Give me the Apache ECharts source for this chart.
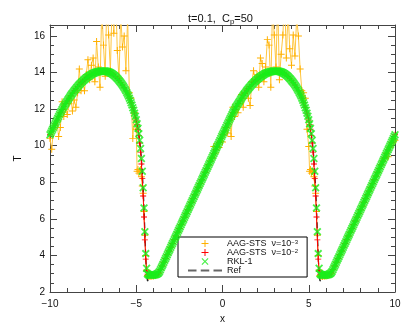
<!DOCTYPE html>
<html><head><meta charset="utf-8">
<script src="https://cdn.jsdelivr.net/npm/echarts@6/dist/echarts.min.js"></script>
<style>html,body{margin:0;padding:0;background:#fff}#c{width:415px;height:332px}</style>
</head><body><div id="c"></div>
<script>
// sample positions (x) for the AAG-STS runs and the reference
const xGrid = [
-10.0,-9.9,-9.8,-9.7,-9.6,-9.5,-9.4,-9.3,-9.2,-9.1,
-9.0,-8.9,-8.8,-8.7,-8.6,-8.5,-8.4,-8.3,-8.2,-8.1,
-8.0,-7.9,-7.8,-7.7,-7.6,-7.5,-7.4,-7.3,-7.2,-7.1,
-7.0,-6.9,-6.8,-6.7,-6.6,-6.5,-6.4,-6.3,-6.2,-6.1,
-6.0,-5.9,-5.8,-5.7,-5.6,-5.5,-5.4,-5.3,-5.2,-5.1,
-5.0,-4.95,-4.9,-4.85,-4.8,-4.75,-4.7,-4.65,-4.6,-4.55,-4.5,-4.45,-4.4,-4.35,
-4.3,-4.2,-4.1,-4.0,-3.9,-3.8,-3.7,-3.6,-3.5,-3.4,
-3.3,-3.2,-3.1,-3.0,-2.9,-2.8,-2.7,-2.6,-2.5,-2.4,
-2.3,-2.2,-2.1,-2.0,-1.9,-1.8,-1.7,-1.6,-1.5,-1.4,
-1.3,-1.2,-1.1,-1.0,-0.9,-0.8,-0.7,-0.6,-0.5,-0.4,
-0.3,-0.2,-0.1,
0.0,0.1,0.2,0.3,0.4,0.5,0.6,0.7,0.8,0.9,
1.0,1.1,1.2,1.3,1.4,1.5,1.6,1.7,1.8,1.9,
2.0,2.1,2.2,2.3,2.4,2.5,2.6,2.7,2.8,2.9,
3.0,3.1,3.2,3.3,3.4,3.5,3.6,3.7,3.8,3.9,
4.0,4.1,4.2,4.3,4.4,4.5,4.6,4.7,4.8,4.9,
5.0,5.05,5.1,5.15,5.2,5.25,5.3,5.35,5.4,5.45,5.5,5.55,5.6,5.65,
5.7,5.8,5.9,6.0,6.1,6.2,6.3,6.4,6.5,6.6,
6.7,6.8,6.9,7.0,7.1,7.2,7.3,7.4,7.5,7.6,
7.7,7.8,7.9,8.0,8.1,8.2,8.3,8.4,8.5,8.6,
8.7,8.8,8.9,9.0,9.1,9.2,9.3,9.4,9.5,9.6,
9.7,9.8,9.9,10.0
];

// RKL-1 grid: x = -10 .. 10 in steps of 0.05 (401 samples)
const xFineStart = -10, xFineStep = 0.05, xFineCount = 401;

// RKL-1 (green crosses), one value per fine-grid sample
const tRKL = [
10.6,10.7,10.8,10.9,11.0,11.1,11.2,11.3,11.4,11.5,
11.6,11.7,11.8,11.89,11.98,12.07,12.15,12.23,12.3,12.38,
12.45,12.53,12.6,12.67,12.74,12.81,12.87,12.94,13.0,13.06,
13.12,13.18,13.23,13.29,13.34,13.39,13.44,13.49,13.53,13.58,
13.62,13.66,13.7,13.74,13.77,13.81,13.84,13.87,13.9,13.93,
13.95,13.97,13.99,14.01,14.02,14.04,14.05,14.06,14.07,14.08,
14.08,14.08,14.08,14.08,14.08,14.07,14.06,14.05,14.03,14.01,
13.99,13.96,13.93,13.9,13.86,13.82,13.78,13.73,13.68,13.63,
13.57,13.51,13.45,13.39,13.32,13.25,13.17,13.09,13.0,12.91,
12.82,12.72,12.6,12.48,12.35,12.22,12.08,11.94,11.78,11.61,
11.42,11.2,10.95,10.65,10.3,9.85,9.3,8.6,7.7,6.6,
5.3,4.1,3.3,3.0,2.95,2.93,2.92,2.92,2.92,2.92,
2.93,2.94,2.95,2.96,2.98,3.01,3.05,3.12,3.22,3.32,
3.42,3.52,3.63,3.73,3.83,3.93,4.04,4.14,4.24,4.34,
4.45,4.55,4.65,4.75,4.86,4.96,5.06,5.16,5.27,5.37,
5.47,5.57,5.68,5.78,5.88,5.98,6.09,6.19,6.29,6.39,
6.5,6.6,6.7,6.8,6.91,7.01,7.11,7.21,7.32,7.42,
7.52,7.62,7.73,7.83,7.93,8.03,8.14,8.24,8.34,8.44,
8.55,8.65,8.75,8.85,8.96,9.06,9.16,9.26,9.37,9.47,
9.57,9.67,9.78,9.88,9.98,10.08,10.19,10.29,10.39,10.5,
10.6,10.7,10.8,10.9,11.0,11.1,11.2,11.3,11.4,11.5,
11.6,11.7,11.8,11.89,11.98,12.07,12.15,12.23,12.3,12.38,
12.45,12.53,12.6,12.67,12.74,12.81,12.87,12.94,13.0,13.06,
13.12,13.18,13.23,13.29,13.34,13.39,13.44,13.49,13.53,13.58,
13.62,13.66,13.7,13.74,13.77,13.81,13.84,13.87,13.9,13.93,
13.95,13.97,13.99,14.01,14.02,14.04,14.05,14.06,14.07,14.08,
14.08,14.08,14.08,14.08,14.08,14.07,14.06,14.05,14.03,14.01,
13.99,13.96,13.93,13.9,13.86,13.82,13.78,13.73,13.68,13.63,
13.57,13.51,13.45,13.39,13.32,13.25,13.17,13.09,13.0,12.91,
12.82,12.72,12.6,12.48,12.35,12.22,12.08,11.94,11.78,11.61,
11.42,11.2,10.95,10.65,10.3,9.85,9.3,8.6,7.7,6.6,
5.3,4.1,3.3,3.0,2.95,2.93,2.92,2.92,2.92,2.92,
2.93,2.94,2.95,2.96,2.98,3.01,3.05,3.12,3.22,3.32,
3.42,3.52,3.63,3.73,3.83,3.93,4.04,4.14,4.24,4.34,
4.45,4.55,4.65,4.75,4.86,4.96,5.06,5.16,5.27,5.37,
5.47,5.57,5.68,5.78,5.88,5.98,6.09,6.19,6.29,6.39,
6.5,6.6,6.7,6.8,6.91,7.01,7.11,7.21,7.32,7.42,
7.52,7.62,7.73,7.83,7.93,8.03,8.14,8.24,8.34,8.44,
8.55,8.65,8.75,8.85,8.96,9.06,9.16,9.26,9.37,9.47,
9.57,9.67,9.78,9.88,9.98,10.08,10.19,10.29,10.39,10.5,
10.6
];

// AAG-STS nu=1e-2 (red), on xGrid
const tSTS2 = [
10.6,10.8,11.0,11.2,11.4,11.6,11.8,11.98,12.15,12.3,
12.45,12.6,12.74,12.87,13.0,13.12,13.23,13.34,13.44,13.53,
13.62,13.7,13.77,13.84,13.9,13.95,13.99,14.02,14.05,14.07,
14.08,14.08,14.08,14.06,14.03,13.99,13.93,13.86,13.78,13.68,
13.57,13.45,13.32,13.17,13.0,12.82,12.6,12.35,12.08,11.78,
11.4,11.15,10.9,10.55,10.15,9.65,9.0,8.2,7.25,6.1,4.85,3.8,3.15,2.98,
2.95,2.92,2.92,2.93,2.95,2.98,3.05,3.22,3.42,3.63,
3.83,4.04,4.24,4.45,4.65,4.86,5.06,5.27,5.47,5.68,
5.88,6.09,6.29,6.5,6.7,6.91,7.11,7.32,7.52,7.73,
7.93,8.14,8.34,8.55,8.75,8.96,9.16,9.37,9.57,9.78,
9.98,10.19,10.39,
10.6,10.8,11.0,11.2,11.4,11.6,11.8,11.98,12.15,12.3,
12.45,12.6,12.74,12.87,13.0,13.12,13.23,13.34,13.44,13.53,
13.62,13.7,13.77,13.84,13.9,13.95,13.99,14.02,14.05,14.07,
14.08,14.08,14.08,14.06,14.03,13.99,13.93,13.86,13.78,13.68,
13.57,13.45,13.32,13.17,13.0,12.82,12.6,12.35,12.08,11.78,
11.4,11.15,10.9,10.55,10.15,9.65,9.0,8.2,7.25,6.1,4.85,3.8,3.15,2.98,
2.95,2.92,2.92,2.93,2.95,2.98,3.05,3.22,3.42,3.63,
3.83,4.04,4.24,4.45,4.65,4.86,5.06,5.27,5.47,5.68,
5.88,6.09,6.29,6.5,6.7,6.91,7.11,7.32,7.52,7.73,
7.93,8.14,8.34,8.55,8.75,8.96,9.16,9.37,9.57,9.78,
9.98,10.19,10.39,10.6
];

// AAG-STS nu=1e-3 (orange, noisy), on xGrid
const tSTS3 = [
10.4,9.8,10.9,11.1,11.3,10.5,11.0,12.4,11.6,12.0,
11.7,12.3,12.7,11.9,12.5,12.1,12.9,14.2,13.0,13.5,
13.0,13.9,14.7,13.6,14.4,14.8,13.5,15.7,14.3,13.2,
17.5,15.5,13.8,18.2,16.05,14.1,17.8,16.15,18.6,15.2,
13.7,17.2,15.4,16.0,14.1,17.0,12.9,12.6,10.4,11.8,
10.9,8.6,8.7,8.5,8.6,8.7,8.3,7.8,7.4,6.4,5.1,4.0,3.2,2.9,
2.85,2.85,2.86,2.88,2.9,2.95,3.02,3.22,3.42,3.63,
3.83,4.04,4.24,4.45,4.65,4.86,5.06,5.27,5.47,5.68,
5.88,6.09,6.29,6.5,6.7,6.91,7.11,7.32,7.52,7.73,
7.93,8.14,8.34,8.55,8.75,8.96,9.16,9.3,9.95,9.6,
10.1,9.9,10.25,
10.2,10.6,11.0,10.7,11.4,10.5,12.1,11.6,12.0,11.8,
12.3,12.8,12.1,12.9,13.1,12.6,12.2,13.5,14.1,13.6,
13.9,13.2,14.8,14.5,13.5,14.3,15.8,15.5,13.2,17.6,
16.05,14.3,18.0,13.6,15.0,16.05,18.2,14.8,17.4,15.3,
14.4,16.05,14.9,17.0,16.0,14.2,13.0,12.9,12.6,10.9,
9.95,8.6,8.7,8.5,8.6,8.6,8.3,7.8,7.4,6.4,5.1,4.0,3.2,2.9,
2.85,2.85,2.86,2.88,2.9,2.95,3.02,3.22,3.42,3.63,
3.83,4.04,4.24,4.45,4.65,4.86,5.06,5.27,5.47,5.68,
5.88,6.09,6.29,6.5,6.7,6.91,7.11,7.32,7.52,7.73,
7.93,8.14,8.34,8.55,8.75,8.96,9.16,9.3,9.6,9.4,
9.9,10.1,10.2,10.3
];

// Reference solution (dashed), on xGrid
const tRef = [
10.6,10.8,11.0,11.2,11.4,11.6,11.8,11.98,12.15,12.3,
12.45,12.6,12.74,12.87,13.0,13.12,13.23,13.34,13.44,13.53,
13.62,13.7,13.77,13.84,13.9,13.95,13.99,14.02,14.05,14.07,
14.08,14.08,14.08,14.06,14.03,13.99,13.93,13.86,13.78,13.68,
13.57,13.45,13.32,13.17,13.0,12.82,12.6,12.35,12.08,11.78,
11.42,11.2,10.95,10.65,10.3,9.85,9.3,8.6,7.7,6.6,5.3,3.9,2.95,2.6,
2.55,2.75,2.88,2.93,2.95,2.98,3.05,3.22,3.42,3.63,
3.83,4.04,4.24,4.45,4.65,4.86,5.06,5.27,5.47,5.68,
5.88,6.09,6.29,6.5,6.7,6.91,7.11,7.32,7.52,7.73,
7.93,8.14,8.34,8.55,8.75,8.96,9.16,9.37,9.57,9.78,
9.98,10.19,10.39,
10.6,10.8,11.0,11.2,11.4,11.6,11.8,11.98,12.15,12.3,
12.45,12.6,12.74,12.87,13.0,13.12,13.23,13.34,13.44,13.53,
13.62,13.7,13.77,13.84,13.9,13.95,13.99,14.02,14.05,14.07,
14.08,14.08,14.08,14.06,14.03,13.99,13.93,13.86,13.78,13.68,
13.57,13.45,13.32,13.17,13.0,12.82,12.6,12.35,12.08,11.78,
11.42,11.2,10.95,10.65,10.3,9.85,9.3,8.6,7.7,6.6,5.3,3.9,2.95,2.6,
2.55,2.75,2.88,2.93,2.95,2.98,3.05,3.22,3.42,3.63,
3.83,4.04,4.24,4.45,4.65,4.86,5.06,5.27,5.47,5.68,
5.88,6.09,6.29,6.5,6.7,6.91,7.11,7.32,7.52,7.73,
7.93,8.14,8.34,8.55,8.75,8.96,9.16,9.37,9.57,9.78,
9.98,10.19,10.39,10.6
];

const seriesNames = ['AAG-STS \u03bd=10^-3', 'AAG-STS \u03bd=10^-2', 'RKL-1', 'Ref'];
const xTickLabels = ['\u221210', '\u22125', '0', '5', '10'];
const yTickLabels = ['2', '4', '6', '8', '10', '12', '14', '16'];

const PLUS = 'path://M4.3,0H5.7V4.3H10V5.7H5.7V10H4.3V5.7H0V4.3H4.3Z';
const CROSS = 'path://M0,1.2L1.2,0L5,3.8L8.8,0L10,1.2L6.2,5L10,8.8L8.8,10L5,6.2L1.2,10L0,8.8L3.8,5Z';
const CROSS_BOLD = 'path://M0,1.6L1.6,0L5,3.4L8.4,0L10,1.6L6.6,5L10,8.4L8.4,10L5,6.6L1.6,10L0,8.4L3.4,5Z';
const DASH = 'path://M0,0H8V2H0ZM12,0H20V2H12ZM24,0H32V2H24Z';

const pts = arr => xGrid.map((x, i) => [x, arr[i]]);
const finePts = arr => arr.map((t, i) => [Math.round((xFineStart + i * xFineStep) * 100) / 100, t]);
const FONT = '"Liberation Sans", Arial, sans-serif';
const AX = '#444';

const chart = echarts.init(document.getElementById('c'), null, {renderer: 'canvas'});
const xBase = {
  type: 'value', min: -10, max: 10, interval: 5,
  axisLine: {show: true, onZero: false, lineStyle: {color: AX, width: 1}},
  axisTick: {show: true, inside: true, length: 7, lineStyle: {color: AX}},
  minorTick: {show: true, splitNumber: 5, length: 4, lineStyle: {color: AX}},
  splitLine: {show: false}, minorSplitLine: {show: false}
};
const yMajor = {
  type: 'value', min: 2, max: 16.6, interval: 2,
  axisLine: {show: true, onZero: false, lineStyle: {color: AX, width: 1}},
  axisTick: {show: true, inside: true, length: 7, lineStyle: {color: AX}},
  splitLine: {show: false}
};
const yMinor = {
  type: 'value', min: 2, max: 16.6, interval: 0.5,
  axisLine: {show: false, onZero: false},
  axisTick: {show: true, inside: true, length: 4, lineStyle: {color: AX}},
  axisLabel: {show: false}, splitLine: {show: false}
};

chart.setOption({
  animation: false,
  backgroundColor: '#fff',
  textStyle: {fontFamily: FONT},
  title: {
    text: '{a|t=0.1,  C}{b|p}{a|=50}',
    left: 183, top: 7,
    textStyle: {
      fontWeight: 'normal',
      rich: {
        a: {fontSize: 11, fontWeight: 'normal', color: '#111', fontFamily: FONT, lineHeight: 14, verticalAlign: 'middle'},
        b: {fontSize: 8, fontWeight: 'normal', color: '#111', fontFamily: FONT, lineHeight: 14, verticalAlign: 'bottom'}
      }
    }
  },
  grid: {left: 50, right: 20, top: 25, bottom: 40, containLabel: false},
  xAxis: [
    Object.assign({}, xBase, {
      position: 'bottom', name: 'x', nameLocation: 'middle', nameGap: 20,
      nameTextStyle: {fontSize: 10, color: '#111', fontFamily: FONT},
      axisLabel: {fontSize: 10, color: '#111', margin: 7, fontFamily: FONT,
        formatter: v => xTickLabels[Math.round((v + 10) / 5)]}
    }),
    Object.assign({}, xBase, {position: 'top', axisLabel: {show: false}})
  ],
  yAxis: [
    Object.assign({}, yMajor, {
      position: 'left', name: 'T', nameLocation: 'middle', nameGap: 27, nameRotate: 90,
      nameTextStyle: {fontSize: 10, color: '#111', fontFamily: FONT},
      axisLabel: {fontSize: 10, color: '#111', margin: 5, fontFamily: FONT, showMaxLabel: false,
        formatter: v => { const i = Math.round((v - 2) / 2); return Math.abs(v - (2 + 2 * i)) < 1e-6 ? yTickLabels[i] : ''; }}
    }),
    Object.assign({}, yMinor, {position: 'left'}),
    Object.assign({}, yMajor, {position: 'right', axisLabel: {show: false}}),
    Object.assign({}, yMinor, {position: 'right'})
  ],
  legend: {
    orient: 'vertical', left: 178, top: 237,
    itemGap: 0, itemWidth: 34, itemHeight: 7, symbolKeepAspect: true,
    padding: [2, 9, 2, 10],
    borderColor: '#000', borderWidth: 1, borderRadius: 0, backgroundColor: '#fff',
    textStyle: {
      fontSize: 9, color: '#111', fontFamily: FONT,
      rich: {
        t: {fontSize: 9, lineHeight: 9, color: '#111', fontFamily: FONT, verticalAlign: 'middle'},
        s: {fontSize: 6, lineHeight: 9, color: '#111', fontFamily: FONT, verticalAlign: 'top'}
      }
    },
    formatter: name => {
      if (name === seriesNames[0]) return '{t|AAG-STS  \u03bd=10}{s|\u22123}';
      if (name === seriesNames[1]) return '{t|AAG-STS  \u03bd=10}{s|\u22122}';
      return '{t|' + name + '}';
    },
    data: [
      {name: seriesNames[0], icon: PLUS},
      {name: seriesNames[1], icon: PLUS},
      {name: seriesNames[2], icon: CROSS},
      {name: seriesNames[3], icon: DASH, itemStyle: {color: '#666'}}
    ]
  },
  series: [
    {
      name: seriesNames[0], type: 'line', data: pts(tSTS3), xAxisIndex: 0, yAxisIndex: 0,
      symbol: PLUS, symbolSize: 7, showAllSymbol: true, clip: true,
      itemStyle: {color: '#ffb000'}, lineStyle: {color: '#ffc640', width: 1}, z: 2
    },
    {
      name: seriesNames[3], type: 'line', data: pts(tRef), xAxisIndex: 0, yAxisIndex: 0,
      symbol: 'none', clip: true,
      itemStyle: {color: '#333'}, lineStyle: {color: '#222', width: 1.2, type: [6, 3]}, z: 3
    },
    {
      name: seriesNames[1], type: 'line', data: pts(tSTS2), xAxisIndex: 0, yAxisIndex: 0,
      symbol: PLUS, symbolSize: 6, showAllSymbol: true, clip: true,
      itemStyle: {color: '#ff0000'}, lineStyle: {color: '#ff0000', width: 1}, z: 4
    },
    {
      name: seriesNames[2], type: 'scatter', data: finePts(tRKL), xAxisIndex: 0, yAxisIndex: 0,
      symbol: CROSS_BOLD, symbolSize: 8, clip: true,
      itemStyle: {color: '#1aee1a'}, z: 5
    }
  ]
});
</script>
</body></html>
